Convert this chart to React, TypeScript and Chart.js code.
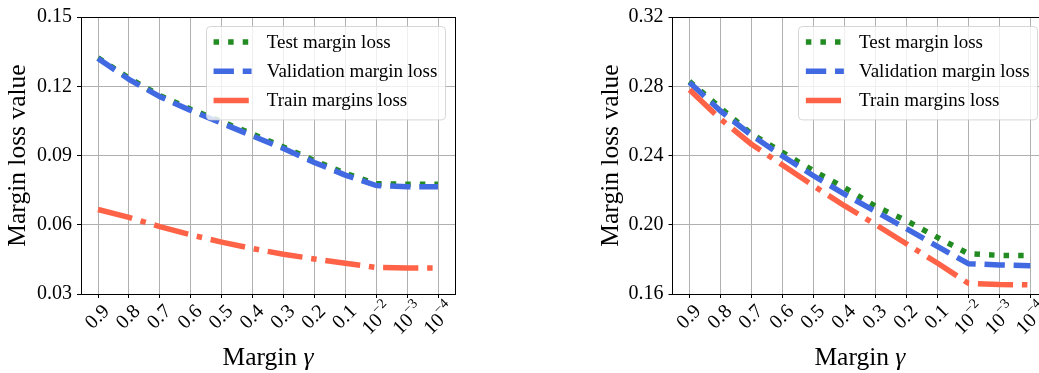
import React, { useEffect, useRef } from "react";
import { Chart, registerables } from "chart.js";

Chart.register(...registerables);

// ---------------- data ----------------
const categories = ["0.9", "0.8", "0.7", "0.6", "0.5", "0.4", "0.3", "0.2", "0.1", "1e-2", "1e-3", "1e-4"];
const tickBase = ["0.9", "0.8", "0.7", "0.6", "0.5", "0.4", "0.3", "0.2", "0.1", "10", "10", "10"];
const tickExp = ["", "", "", "", "", "", "", "", "", "\u22122", "\u22123", "\u22124"];

const leftTest = [0.1323, 0.1235, 0.116, 0.110, 0.1047, 0.0993, 0.0937, 0.0878, 0.0823, 0.0778, 0.0775, 0.0775];
const leftValidation = [0.132, 0.123, 0.1155, 0.1095, 0.104, 0.0985, 0.093, 0.087, 0.0815, 0.077, 0.0765, 0.0765];
const leftTrain = [0.0666, 0.0632, 0.0592, 0.0556, 0.0525, 0.0497, 0.0472, 0.0452, 0.0433, 0.0415, 0.0413, 0.0413];

const rightTest = [0.2828, 0.2675, 0.2525, 0.2418, 0.2312, 0.2215, 0.2107, 0.2024, 0.1927, 0.1833, 0.1823, 0.1822];
const rightValidation = [0.2822, 0.2657, 0.2517, 0.2397, 0.2283, 0.2177, 0.2077, 0.1978, 0.1875, 0.1775, 0.1768, 0.1763];
const rightTrain = [0.278, 0.261, 0.2465, 0.2345, 0.2225, 0.211, 0.2002, 0.189, 0.1779, 0.1662, 0.1655, 0.1653];

const leftYTicks = [0.03, 0.06, 0.09, 0.12, 0.15];
const rightYTicks = [0.16, 0.2, 0.24, 0.28, 0.32];

const seriesLabels = ["Test margin loss", "Validation margin loss", "Train margins loss"];
const xTitleText = "Margin ";
const xTitleSymbol = "\u03b3";
const yTitleText = "Margin loss value";

// ---------------- styles ----------------
const FAMILY = '"Liberation Serif", "DejaVu Serif", serif';
const LW = 5.5;
const seriesStyles = [
  { color: "#228B22", dash: [LW * 1, LW * 1.65] },
  { color: "#4169E1", dash: [LW * 3.7, LW * 1.6] },
  { color: "#FF6347", dash: [LW * 6.4, LW * 1.6, LW * 1, LW * 1.6] },
];

const decorPlugin = {
  id: "decor",
  afterDatasetsDraw(chart: any) {
    const { ctx, chartArea } = chart;
    const l = Math.floor(chartArea.left) + 0.5;
    const t = Math.floor(chartArea.top) + 0.5;
    const r = Math.floor(chartArea.right) + 0.5;
    const b = Math.floor(chartArea.bottom) + 0.5;
    ctx.save();
    ctx.strokeStyle = "#000";
    ctx.lineWidth = 1;
    ctx.setLineDash([]);
    ctx.strokeRect(l, t, r - l, b - t);
    ctx.restore();
  },
  afterDraw(chart: any) {
    const { ctx, chartArea } = chart;
    const xs = chart.scales.x;
    ctx.save();
    ctx.fillStyle = "#000";
    // x tick labels (rotated 45deg, centred on the tick)
    for (let i = 0; i < categories.length; i++) {
      const px = xs.getPixelForValue(i);
      ctx.save();
      ctx.translate(px - 1, chartArea.bottom + 22.5);
      ctx.rotate(-Math.PI / 4);
      if (!tickExp[i]) {
        ctx.font = `20px ${FAMILY}`;
        ctx.textAlign = "center";
        ctx.textBaseline = "middle";
        ctx.fillText(tickBase[i], 0, 1);
      } else {
        ctx.font = `20px ${FAMILY}`;
        const w1 = ctx.measureText(tickBase[i]).width;
        ctx.font = `14px ${FAMILY}`;
        const w2 = ctx.measureText(tickExp[i]).width;
        const start = -(w1 + w2) / 2;
        ctx.textAlign = "left";
        ctx.textBaseline = "middle";
        ctx.font = `20px ${FAMILY}`;
        ctx.fillText(tickBase[i], start, 4);
        ctx.font = `14px ${FAMILY}`;
        ctx.fillText(tickExp[i], start + w1, -4);
      }
      ctx.restore();
    }
    // x axis title with italic gamma
    const cx = (chartArea.left + chartArea.right) / 2;
    ctx.font = `25.5px ${FAMILY}`;
    const tw1 = ctx.measureText(xTitleText).width;
    ctx.font = `italic 25.5px ${FAMILY}`;
    const tw2 = ctx.measureText(xTitleSymbol).width;
    const sx = cx - (tw1 + tw2) / 2;
    ctx.textAlign = "left";
    ctx.textBaseline = "alphabetic";
    ctx.font = `25.5px ${FAMILY}`;
    ctx.fillText(xTitleText, sx, 365);
    ctx.font = `italic 25.5px ${FAMILY}`;
    ctx.fillText(xTitleSymbol, sx + tw1, 365);

    // legend
    const fs = 19;
    ctx.font = `${fs}px ${FAMILY}`;
    const handleLen = 2 * fs;
    const pad = 0.4 * fs;
    const textPad = 0.8 * fs;
    let maxW = 0;
    for (const s of seriesLabels) maxW = Math.max(maxW, ctx.measureText(s).width);
    const boxW = pad + handleLen + textPad + maxW + pad;
    const boxRight = chartArea.right - 10;
    const boxLeft = boxRight - boxW;
    const boxTop = chartArea.top + 9;
    const boxH = 93.4;
    ctx.beginPath();
    (ctx as any).roundRect(Math.round(boxLeft) + 0.5, Math.round(boxTop) + 0.5, boxW, boxH, 4);
    ctx.fillStyle = "rgba(255,255,255,0.8)";
    ctx.fill();
    ctx.strokeStyle = "rgba(204,204,204,0.8)";
    ctx.lineWidth = 1;
    ctx.stroke();
    for (let k = 0; k < seriesLabels.length; k++) {
      const y = boxTop + 16 + k * 29.2;
      ctx.beginPath();
      ctx.setLineDash(seriesStyles[k].dash);
      ctx.lineDashOffset = 0;
      ctx.lineCap = "butt";
      ctx.lineWidth = LW;
      ctx.strokeStyle = seriesStyles[k].color;
      ctx.moveTo(boxLeft + pad, y);
      ctx.lineTo(boxLeft + pad + handleLen, y);
      ctx.stroke();
      ctx.setLineDash([]);
      ctx.fillStyle = "#000";
      ctx.font = `${fs}px ${FAMILY}`;
      ctx.textAlign = "left";
      ctx.textBaseline = "middle";
      ctx.fillText(seriesLabels[k], boxLeft + pad + handleLen + textPad, y + 1);
    }
    ctx.restore();
  },
};

type PanelProps = {
  test: number[];
  validation: number[];
  train: number[];
  yTicks: number[];
  yAxisWidth: number;
  yTitlePad: number;
  padRight: number;
  width: number;
};

function Panel(props: PanelProps) {
  const ref = useRef<HTMLCanvasElement>(null);
  useEffect(() => {
    if (!ref.current) return;
    const series = [props.test, props.validation, props.train];
    const mk = (vals: number[]) => vals.map((v, i) => ({ x: i, y: v }));
    // reverse order so that Test is painted first and Train last (on top)
    const datasets = [2, 1, 0].map((k) => ({
      label: seriesLabels[k],
      data: mk(series[k]),
      borderColor: seriesStyles[k].color,
      backgroundColor: seriesStyles[k].color,
      borderWidth: LW,
      borderDash: seriesStyles[k].dash,
      borderCapStyle: "butt" as const,
      borderJoinStyle: "round" as const,
      pointRadius: 0,
      pointHoverRadius: 0,
      fill: false,
      tension: 0,
    }));
    const yT = props.yTicks;
    const chart = new Chart(ref.current, {
      type: "line",
      data: { datasets },
      plugins: [decorPlugin],
      options: {
        animation: false,
        responsive: false,
        devicePixelRatio: 1,
        events: [],
        layout: { padding: { left: 0, right: props.padRight, top: 10, bottom: 0 } },
        plugins: { legend: { display: false }, tooltip: { enabled: false } },
        scales: {
          x: {
            type: "linear",
            min: -0.55,
            max: categories.length - 1 + 0.55,
            afterBuildTicks: (s: any) => {
              s.ticks = categories.map((_, i) => ({ value: i }));
            },
            afterFit: (s: any) => {
              s.height = 79;
            },
            ticks: { display: false },
            grid: { color: "#b0b0b0", lineWidth: 1, tickLength: 4, tickColor: "#000", tickWidth: 1 },
            border: { display: false },
          },
          y: {
            type: "linear",
            min: yT[0],
            max: yT[yT.length - 1],
            afterBuildTicks: (s: any) => {
              s.ticks = yT.map((v) => ({ value: v }));
            },
            afterFit: (s: any) => {
              s.width = props.yAxisWidth;
            },
            ticks: {
              callback: (v: any) => Number(v).toFixed(2),
              font: { family: FAMILY, size: 20 },
              color: "#000",
              padding: 5,
            },
            grid: { color: "#b0b0b0", lineWidth: 1, tickLength: 4, tickColor: "#000", tickWidth: 1 },
            border: { display: false },
            title: {
              display: true,
              text: yTitleText,
              font: { family: FAMILY, size: 25.5 },
              color: "#000",
              padding: { top: props.yTitlePad, bottom: 0 },
            },
          },
        },
      } as any,
    });
    return () => chart.destroy();
  }, []);
  return <canvas ref={ref} width={props.width} height={373} style={{ display: "block", width: props.width, height: 373 }} />;
}

export default function App() {
  return (
    <div style={{ position: "absolute", left: 0, top: 0, width: 1039, height: 373, overflow: "hidden", background: "#fff" }}>
      <div style={{ position: "absolute", left: 0, top: 0, width: 470, height: 373 }}>
        <Panel
          test={leftTest}
          validation={leftValidation}
          train={leftTrain}
          yTicks={leftYTicks}
          yAxisWidth={81}
          yTitlePad={2.5}
          padRight={15}
          width={470}
        />
      </div>
      <div style={{ position: "absolute", left: 590, top: 0, width: 449, height: 373, overflow: "hidden" }}>
        <Panel
          test={rightTest}
          validation={rightValidation}
          train={rightTrain}
          yTicks={rightYTicks}
          yAxisWidth={82.5}
          yTitlePad={6}
          padRight={12.7}
          width={470}
        />
      </div>
    </div>
  );
}
